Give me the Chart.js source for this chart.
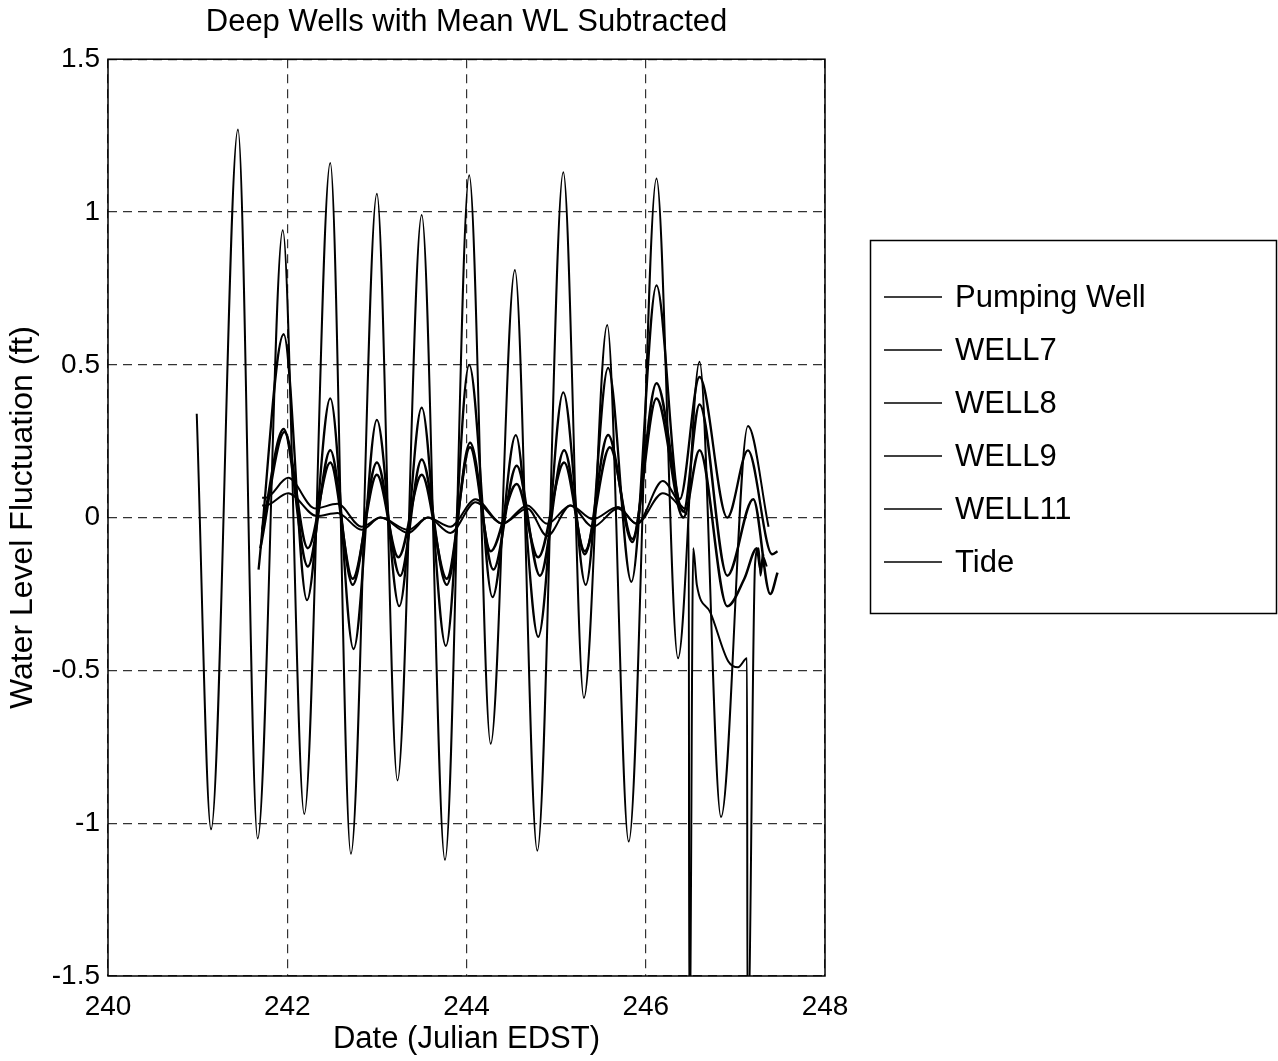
<!DOCTYPE html>
<html>

<head>
    <meta charset="UTF-8">
    <title>Deep Wells with Mean WL Subtracted</title>
    <script src="https://cdn.jsdelivr.net/npm/chart.js"></script>
    <style>
        body {
            margin: 0;
            background: #fff;
        }
    </style>
</head>

<body>
    <canvas id="myChart" width="1278" height="1061"></canvas>

    <script>
        // values (x = Julian day, y = ft)
        const seriesNames = ['Pumping Well', 'WELL7', 'WELL8', 'WELL9', 'WELL11', 'Tide'];

        const pumpX = [240.99, 241.15, 241.45, 241.67, 241.95, 242.19, 242.48, 242.71, 243.00, 243.23, 243.50, 243.76, 244.03, 244.27, 244.54, 244.79, 245.08, 245.31, 245.57, 245.81, 246.12, 246.36, 246.60, 246.84, 247.14, 247.37];
        const pumpY = [0.34, -1.02, 1.27, -1.05, 0.94, -0.97, 1.16, -1.10, 1.06, -0.86, 0.99, -1.12, 1.12, -0.74, 0.81, -1.09, 1.13, -0.59, 0.63, -1.06, 1.11, -0.46, 0.51, -0.98, 0.30, -0.03];

        const well7X = [241.68, 241.96, 242.22, 242.48, 242.74, 243.00, 243.25, 243.50, 243.77, 244.03, 244.29, 244.55, 244.80, 245.08, 245.33, 245.58, 245.84, 246.12, 246.38, 246.60, 246.91, 247.14, 247.41, 247.47];
        const well7Y = [-0.17, 0.60, -0.27, 0.39, -0.43, 0.32, -0.29, 0.36, -0.42, 0.50, -0.26, 0.27, -0.39, 0.41, -0.22, 0.49, -0.21, 0.76, 0.06, 0.46, 0.00, 0.22, -0.12, -0.11];

        const well8X = [241.72, 241.96, 242.23, 242.48, 242.73, 243.00, 243.26, 243.50, 243.78, 244.04, 244.30, 244.56, 244.82, 245.09, 245.32, 245.58, 245.85, 246.12, 246.42, 246.60, 246.91, 247.20, 247.39, 247.47];
        const well8Y = [-0.04, 0.29, -0.16, 0.22, -0.22, 0.18, -0.19, 0.19, -0.22, 0.245, -0.17, 0.17, -0.19, 0.22, -0.12, 0.27, -0.08, 0.44, 0.02, 0.37, -0.19, 0.06, -0.25, -0.18];

        const well9X = [241.70, 241.97, 242.23, 242.48, 242.73, 243.00, 243.24, 243.50, 243.78, 244.04, 244.27, 244.56, 244.80, 245.09, 245.32, 245.60, 245.85, 246.12, 246.42, 246.60, 246.91, 247.10, 247.24, 247.28, 247.31];
        const well9Y = [-0.10, 0.28, -0.10, 0.18, -0.20, 0.14, -0.13, 0.14, -0.20, 0.23, -0.11, 0.11, -0.13, 0.18, -0.11, 0.23, -0.07, 0.39, 0.00, 0.22, -0.29, -0.20, -0.10, -0.17, -0.12];

        const well11X = [241.72, 241.76, 242.01, 242.31, 242.56, 242.83, 243.04, 243.35, 243.57, 243.82, 244.10, 244.40, 244.68, 244.90, 245.16, 245.41, 245.69, 245.90, 246.19, 246.44, 246.48, 246.485, 246.49, 246.53, 246.57, 246.72, 246.92, 247.03, 247.13, 247.135, 247.14, 247.22, 247.26, 247.28, 247.31, 247.35];
        const well11Y = [0.065, 0.065, 0.13, 0.03, 0.045, -0.03, 0.00, -0.04, 0.00, -0.03, 0.06, -0.02, 0.04, -0.02, 0.04, -0.005, 0.035, -0.02, 0.12, 0.03, 0.03, -1.7, -1.7, -0.10, -0.22, -0.31, -0.47, -0.49, -0.46, -1.7, -1.7, -0.15, -0.10, -0.19, -0.13, -0.16];

        const tideX = [241.72, 241.76, 242.01, 242.33, 242.56, 242.83, 243.04, 243.35, 243.57, 243.82, 244.10, 244.40, 244.68, 244.90, 245.16, 245.41, 245.69, 245.90, 246.19, 246.46];
        const tideY = [0.04, 0.04, 0.08, 0.005, 0.015, -0.04, 0.00, -0.05, 0.00, -0.05, 0.05, -0.02, 0.03, -0.06, 0.04, -0.03, 0.03, -0.02, 0.08, 0.01];

        const xTicks = [240, 242, 244, 246, 248];
        const yTicks = [-1.5, -1, -0.5, 0, 0.5, 1, 1.5];

        const FONT = 'Liberation Sans, Arial, Helvetica, sans-serif';

        function pts(xs, ys) {
            return xs.map((x, i) => ({ x: x, y: ys[i] }));
        }

        const allX = [pumpX, well7X, well8X, well9X, well11X, tideX];
        const allY = [pumpY, well7Y, well8Y, well9Y, well11Y, tideY];
        const widths = [2.0, 2.3, 2.5, 2.5, 2.0, 2.0];

        const datasets = seriesNames.map((name, i) => ({
            label: name,
            data: pts(allX[i], allY[i]),
            borderColor: '#000',
            borderWidth: widths[i],
            pointRadius: 0,
            fill: false,
            cubicInterpolationMode: 'monotone'
        }));

        // box around the plot area + boxed legend on the right
        const frame = {
            id: 'frame',
            afterDraw(chart) {
                const ctx = chart.ctx;
                const a = chart.chartArea;
                ctx.save();
                ctx.strokeStyle = '#000';
                ctx.lineWidth = 1.5;
                ctx.strokeRect(a.left, a.top, a.right - a.left, a.bottom - a.top);

                ctx.lineWidth = 1.5;
                ctx.strokeRect(870.5, 240.5, 406, 373);
                ctx.font = '31px ' + FONT;
                ctx.fillStyle = '#000';
                ctx.textBaseline = 'middle';
                chart.data.datasets.forEach((ds, i) => {
                    const y = 297 + 53 * i;
                    ctx.beginPath();
                    ctx.lineWidth = 1.3;
                    ctx.moveTo(884, y);
                    ctx.lineTo(942, y);
                    ctx.stroke();
                    ctx.fillText(ds.label, 955, y + 1);
                });
                ctx.restore();
            }
        };

        const ctx = document.getElementById('myChart').getContext('2d');
        const chart = new Chart(ctx, {
            type: 'line',
            data: { datasets: datasets },
            options: {
                responsive: false,
                animation: false,
                layout: {
                    padding: { left: 0, right: 453, top: 0, bottom: 0 }
                },
                scales: {
                    x: {
                        type: 'linear',
                        min: 240,
                        max: 248,
                        afterFit: s => { s.height = 85; },
                        afterBuildTicks: s => { s.ticks = xTicks.map(v => ({ value: v })); },
                        ticks: {
                            color: '#000',
                            padding: 14,
                            font: { family: FONT, size: 28 },
                            callback: v => String(v)
                        },
                        grid: { color: '#333', lineWidth: 1.2, drawTicks: false },
                        border: { display: false, dash: [9, 6] },
                        title: {
                            display: true,
                            text: 'Date (Julian EDST)',
                            color: '#000',
                            padding: { top: 0, bottom: 3 },
                            font: { family: FONT, size: 31 }
                        }
                    },
                    y: {
                        type: 'linear',
                        min: -1.5,
                        max: 1.5,
                        afterFit: s => { s.width = 108; },
                        afterBuildTicks: s => { s.ticks = yTicks.map(v => ({ value: v })); },
                        ticks: {
                            color: '#000',
                            padding: 8,
                            font: { family: FONT, size: 28 },
                            callback: v => String(v)
                        },
                        grid: { color: '#333', lineWidth: 1.2, drawTicks: false },
                        border: { display: false, dash: [9, 6] },
                        title: {
                            display: true,
                            text: 'Water Level Fluctuation (ft)',
                            color: '#000',
                            padding: { top: 4, bottom: 0 },
                            font: { family: FONT, size: 32 }
                        }
                    }
                },
                plugins: {
                    legend: { display: false },
                    tooltip: { enabled: false },
                    title: {
                        display: true,
                        fullSize: false,
                        text: 'Deep Wells with Mean WL Subtracted',
                        color: '#000',
                        padding: { top: 4, bottom: 18 },
                        font: { family: FONT, size: 31, weight: 'normal' }
                    }
                }
            },
            plugins: [frame]
        });
    </script>
</body>

</html>
